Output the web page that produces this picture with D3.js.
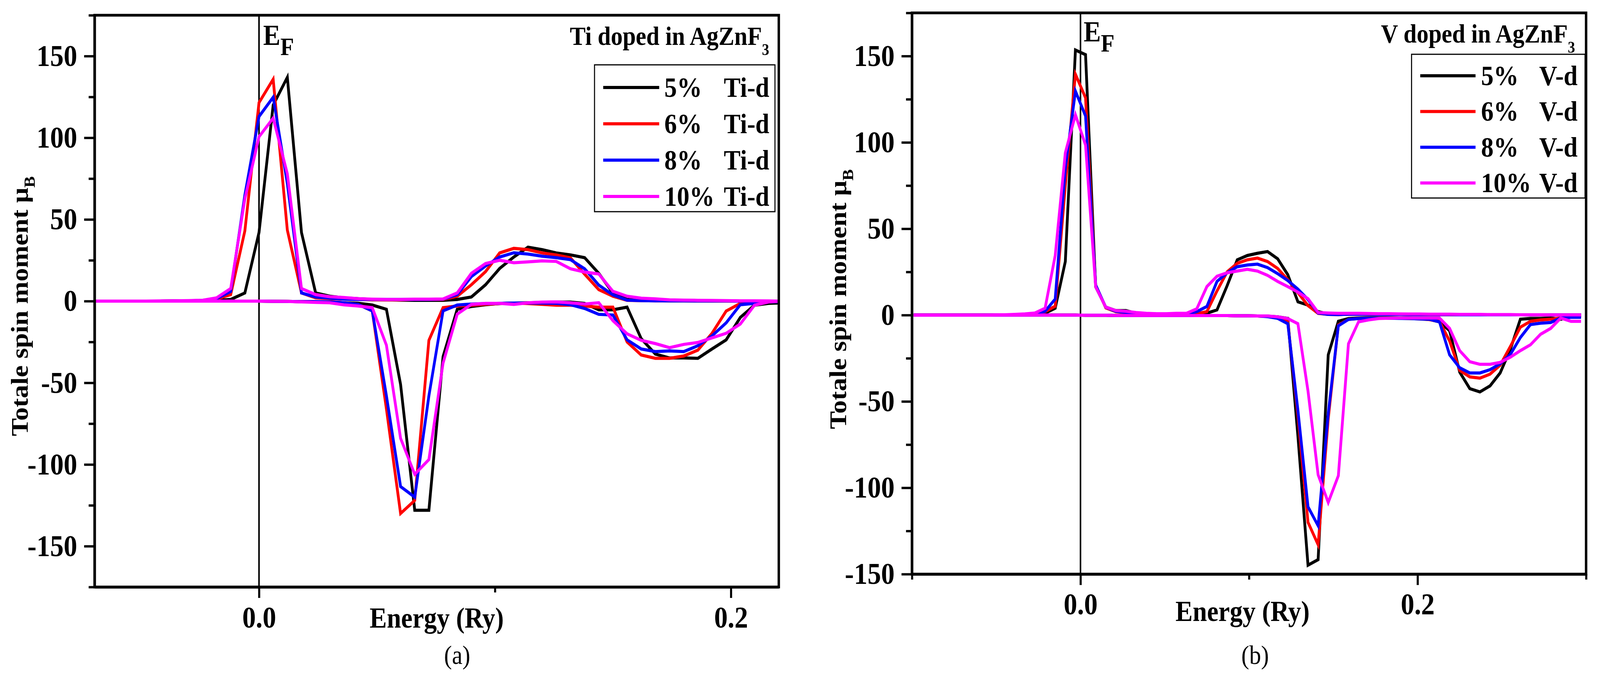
<!DOCTYPE html>
<html>
<head>
<meta charset="utf-8">
<script src="https://cdn.jsdelivr.net/npm/d3@7"></script>
<style>
  html, body { margin: 0; padding: 0; background: #ffffff; overflow: hidden; }
  #chart { position: fixed; left: 0; top: 0; width: 100vw; height: 100vh; display: block; }
  svg text { font-family: "Liberation Serif", "Times New Roman", serif; font-weight: bold; fill: #000; }
</style>
</head>
<body>
<svg id="chart"></svg>
<script>
// Set data
const dopings = ["5%", "6%", "8%", "10%"];
const lineColors = ["#000000", "#ff0000", "#0000ff", "#ff00ff"];

// (a) Ti doped, energy grid in Ry
const energyTi = [-0.072,-0.066,-0.060,-0.054,-0.048,-0.042,-0.036,-0.030,-0.024,-0.018,-0.012,-0.006,
  0,0.006,0.012,0.018,0.024,0.030,0.036,0.042,0.048,0.054,0.060,0.066,0.072,0.078,0.084,0.090,0.096,
  0.102,0.108,0.114,0.120,0.126,0.132,0.138,0.144,0.150,0.156,0.162,0.168,0.174,0.180,0.186,0.192,
  0.198,0.204,0.210,0.216,0.222];

// spin up
const tiUp5 = [0,0,0,0,0,0,0.1,0.2,0.3, 0.5,1,5,42,120,137,42,5,3,2,
  1.5,1,0.8,0.6,0.5,0.5,0.5,1,2.5,10, 20,27,33,31.5,29.5,28.3,26.6,17,5,1,
  0.5,0.3,0.2,0.2,0.2,0.1,0.1,0,0,0,0];
const tiUp6 = [0,0,0,0,0,0,0.1,0.2, 0.3,1.3,4,43,121.5,135.8,43.5,5,2,1.5,1.2,
  1,0.8,0.8,0.8,1,1,1,3,10,18, 29.5,32.3,31.5,29.5,28.2,26.5,16.5,7,3,0.5,
  0.3,0.2,0.2,0.2,0.1,0.1,0.1,0,0,0,0];
const tiUp8 = [0,0,0,0,0,0,0.1,0.2, 0.4,1.5,5.9,65,113,124.8,72,5,2.5,1.8,1.2,
  1,1,1,1,1,1,1.2,4,15,21.5, 27,29.6,28.8,27.5,26.6,25.4,19.8,9.8,3.8,0.6,
  0.3,0.2,0.2,0.2,0.1,0.1,0.1,0,0,0,0];
const tiUp10 = [0,0,0,0,0,0.1,0.2,0.3, 0.5,2,7.7,62.6,100.6,112,78,7.7,4,2.7,2.2,
  1.5,1.2,1,1,1.2,1.2,1.3,5,17,23, 25,23.5,24,24.6,24.3,19.8,17.8,16.6,6,3,
  1.8,1.4,0.8,0.6,0.5,0.4,0.3,0.2,0.2,0.1,0];

// spin down
const tiDn5 = [0,0,0,0,0,0,0,0,0,0,0,0,0,-0.1,-0.2,-0.3,
  -0.5,-0.7,-1,-1.3,-2.4,-5,-51,-128,-128,-34,
  -5,-3.3,-2.2,-1.5,-1.2,-1,-0.8,-0.6,-0.6,-1.4,-5.3,-5.3,
  -3.7,-23,-32.4,-34.8,-34.8,-35,-29.3,-23.7,-10,-2.5,-1.4,-1];
const tiDn6 = [0,0,0,0,0,0,0,0,0,0,0,0,0,-0.1,-0.2,-0.3,
  -0.3,-0.5,-1,-2,-6,-66,-130,-122,-24,-4,
  -3,-2.5,-2,-1.5,-1.2,-1.5,-2,-2.5,-2.5,-3,-3.7,-3.7,
  -25,-33,-35,-35,-33.6,-30,-19.7,-6.1,-1.4,-0.5,0,0];
const tiDn8 = [0,0,0,0,0,0,0,0,0,0,0,0,0,-0.1,-0.2,-0.3,
  -0.3,-0.5,-1,-2,-6,-58,-113.5,-120,-58,-6,
  -2.4,-1.8,-1.5,-1.4,-1.2,-1.2,-1.2,-1.4,-2.2,-4.5,-8.1,-8.5,
  -23.7,-29.3,-30.9,-30.5,-30.9,-27.3,-21.3,-13.3,-2.2,-1.4,-0.5,-0.3];
const tiDn10 = [0,0,0,0,0,0,0,0,0,0,0,0,0,-0.1,-0.2,-0.5,
  -0.8,-1,-2.3,-3,-4,-27,-84,-106,-97,-38,
  -8,-2,-1.4,-1.4,-2,-1,-0.6,-0.5,-1,-1.8,-1,-12,
  -20,-24,-26,-28.5,-26.5,-25.3,-22.5,-19.7,-14,-2.5,-0.5,0];

// (b) V doped, energy grid in Ry
const energyV = [-0.099,-0.093,-0.087,-0.081,-0.075,-0.069,-0.063,-0.057,-0.051,-0.045,-0.039,-0.033,
  -0.027,-0.021,-0.015,-0.009,-0.003,
  0.003,0.009,0.015,0.021,0.027,0.033,0.039,0.045,0.051,0.057,0.063,0.069,0.075,0.081,0.087,0.093,
  0.099,0.105,0.111,0.117,0.123,0.129,0.135,0.141,0.147,0.153,0.159,0.165,0.171,0.177,0.183,0.189,
  0.195,0.201,0.207,0.213,0.219,0.225,0.231,0.237,0.243,0.249,0.255,0.261,0.267,0.273,0.279,0.285,
  0.291,0.297];

// spin up
const vUp5 = [0,0,0,0,0,0,0,0,0,0,0.1,0.2,0.4,
  1.1,4,31,153.5,150.8,16.4,4.6,2.6,2.6,1,
  0.8,0.6,0.5,0.5,0.6,0.8,1.1,3,17,32,
  34.5,35.8,36.8,32.6,23.4,7.7,5.8,2,0.6,0.5,
  0.5,0.5,0.5,0.4,0.4,0.4,0.3,0.3,0.3,0.3,0.3,0.2,0.2,0.2,0.2,0.2,0.2,0.2,0.1,0.1,0.1,0.1,0.1,0.1];
const vUp6 = [0,0,0,0,0,0,0,0,0,0,0.1,0.3,0.6,
  2,5.2,75,139.5,125.8,17.4,4.2,2,1.5,1,
  0.8,0.6,0.5,0.5,0.6,0.8,2,14,25,30,
  32,33,31,27,20.5,13,5.5,1,0.4,0.3,
  0.5,0.5,0.5,0.4,0.4,0.4,0.3,0.3,0.3,0.3,0.3,0.2,0.2,0.2,0.2,0.2,0.2,0.2,0.1,0.1,0.1,0.1,0.1,0.1];
const vUp8 = [0,0,0,0,0,0,0,0,0,0,0.1,0.3,0.8,
  2.2,9.3,85,129.7,115.3,17.4,4.5,2.2,1.6,1.1,
  0.8,0.6,0.5,0.6,0.6,2,5,19.5,24.5,28,
  29,29.5,27.5,24,20,15,9,1.2,0.4,0.3,
  0.5,0.5,0.5,0.4,0.4,0.4,0.3,0.3,0.3,0.3,0.3,0.2,0.2,0.2,0.2,0.2,0.2,0.2,0.1,0.1,0.1,0.1,0.1,0.1];
const vUp10 = [0,0,0,0,0,0,0,0,0.1,0.2,0.4,0.7,1.2,
  4,34.5,94,116,98.4,16.4,4.6,2.6,2.2,1.5,
  1,0.8,0.8,1,1.1,3.6,16.5,22.5,24.5,25.5,
  26.5,25.5,23,19.5,16.5,13.3,9.5,1.5,1.2,1,
  1,1,0.9,0.8,0.8,0.7,0.6,0.6,0.5,0.5,0.5,0.4,0.4,0.4,0.3,0.3,0.3,0.2,0.2,0.2,0.1,0.1,0.1,0.1];

// spin down
const vDn5 = [0,0,0,0,0,0,0,0,0,0,0,0,0,0,0,0,0,
  -0.1,-0.1,-0.1,-0.2,-0.2,-0.2,-0.2,-0.2,-0.2,-0.2,-0.2,-0.3,-0.3,-0.3,-0.3,-0.4,-0.4,-0.5,
  -0.6,-1,-1.9,-70,-144.8,-141.6,-23,-3.6,-2,-1.7,
  -1.5,-1.5,-1.5,-1.6,-1.8,-2,-2.5,-3.9,-9,-33,
  -42.6,-44.5,-41,-33.5,-20,-2.4,-2,-2,-1.7,-2.4,-0.9,-0.5];
const vDn6 = [0,0,0,0,0,0,0,0,0,0,0,0,0,0,0,0,0,
  -0.1,-0.1,-0.1,-0.2,-0.2,-0.2,-0.2,-0.2,-0.2,-0.2,-0.2,-0.3,-0.3,-0.3,-0.3,-0.4,-0.4,-0.5,
  -0.8,-1.5,-4,-58,-120,-133,-60,-5.8,-2.5,-2,
  -1.8,-1.8,-1.8,-1.8,-2,-2.2,-2.6,-3.6,-15,-32,
  -35.8,-36.5,-34.2,-29,-18.3,-7,-3.6,-2.8,-2.4,-1.7,-0.9,-0.5];
const vDn8 = [0,0,0,0,0,0,0,0,0,0,0,0,0,0,0,0,0,
  -0.1,-0.1,-0.1,-0.2,-0.2,-0.2,-0.2,-0.2,-0.2,-0.2,-0.2,-0.3,-0.3,-0.3,-0.3,-0.4,-0.4,-0.5,
  -0.9,-1.9,-5,-55,-111,-122,-57,-6.2,-2.5,-2,
  -1.8,-1.8,-1.8,-1.9,-2,-2.2,-2.4,-3.9,-23,-30.5,
  -33.5,-33.5,-31.6,-28.2,-22.9,-13,-5.5,-4.7,-4.3,-1.7,-1.3,-1.3];
const vDn10 = [0,0,0,0,0,0,0,0,0,0,0,0,0,0,0,0,0,
  -0.1,-0.1,-0.1,-0.2,-0.2,-0.2,-0.2,-0.2,-0.2,-0.2,-0.2,-0.3,-0.3,-0.3,-0.3,-0.4,-0.4,-0.5,
  -0.5,-1,-2,-5,-44,-92.5,-108.5,-93,-16.6,-3.9,
  -2.8,-2,-1.8,-1.7,-1.7,-1.7,-1.7,-1.7,-7.7,-20.6,
  -27,-28.5,-28.5,-27.4,-24.4,-20.6,-17.2,-11.1,-7.7,-1.7,-3.6,-3.6];

// axis ticks
const yMajorTicks = [-150, -100, -50, 0, 50, 100, 150];
const yMinorTicks = [-175, -125, -75, -25, 25, 75, 125, 175];
const xMajorTicks = [0, 0.2];


// Set width and height
const width = 4602;
const height = 1736;
const fontFamily = '"Liberation Serif", "Times New Roman", serif';

// the svg fills the window, the drawing keeps its own 4602 x 1736 units
const canvas = d3.select("#chart")
    .attr("viewBox", `0 0 ${width} ${height}`)
    .attr("preserveAspectRatio", "none");

canvas.append("rect").attr("width", width).attr("height", height).attr("fill", "#ffffff");


// functions
const zipSeries = function(energy, values){
    return energy.map((e, i) => [e, values[i]]);
}

const drawCurves = function(g, panel, x, y){
    const line = d3.line().x(d => x(d[0])).y(d => y(d[1]));
    panel.up.forEach((vals, i) => {
        [vals, panel.down[i]].forEach(series => {
            g.append("path")
                .datum(zipSeries(panel.energy, series))
                .attr("d", line)
                .attr("fill", "none")
                .attr("stroke", lineColors[i])
                .attr("stroke-width", 8)
                .attr("stroke-linejoin", "miter")
                .attr("clip-path", `url(#${panel.id}-clip)`);
        });
    });
}

const drawAxes = function(g, panel, x, y){
    const styleAxis = function(sel){
        sel.attr("font-size", 78).attr("font-family", fontFamily);
        sel.select(".domain").attr("stroke-width", 7);
        sel.selectAll(".tick line").attr("stroke-width", 6);
    }

    const yMajor = d3.axisLeft(y).tickValues(yMajorTicks.filter(v => v >= panel.yDomain[0]))
        .tickSize(30).tickSizeOuter(0).tickPadding(20).tickFormat(d => String(d));
    g.append("g").attr("transform", `translate(${panel.left},0)`).call(yMajor).call(styleAxis);

    const yMinor = d3.axisLeft(y).tickValues(yMinorTicks.filter(v => v >= panel.yDomain[0] && v <= panel.yDomain[1]))
        .tickSize(17).tickSizeOuter(0).tickFormat("");
    g.append("g").attr("transform", `translate(${panel.left},0)`).call(yMinor).call(styleAxis)
        .select(".domain").remove();

    const xMajor = d3.axisBottom(x).tickValues(xMajorTicks).tickSize(28).tickSizeOuter(0)
        .tickFormat(d3.format(".1f"));
    const xg = g.append("g").attr("transform", `translate(0,${panel.bottom})`).call(xMajor).call(styleAxis);
    xg.selectAll(".tick text").attr("y", panel.tickLabelY).attr("dy", 0);

    const xMinor = d3.axisBottom(x).tickValues(panel.xMinor).tickSize(14).tickSizeOuter(0).tickFormat("");
    g.append("g").attr("transform", `translate(0,${panel.bottom})`).call(xMinor).call(styleAxis)
        .select(".domain").remove();

    // frame
    g.append("rect")
        .attr("x", panel.left).attr("y", panel.top)
        .attr("width", panel.right - panel.left).attr("height", panel.bottom - panel.top)
        .attr("fill", "none").attr("stroke", "#000").attr("stroke-width", 7);
}

const drawTexts = function(g, panel){
    // axis titles
    const yl = g.append("text")
        .attr("transform", `translate(${panel.yLabel[0]},${panel.yLabel[1]}) rotate(-90)`)
        .attr("text-anchor", "middle")
        .style("font-size", "69px");
    yl.append("tspan").text("Totale spin moment \u03bc");
    yl.append("tspan").attr("dy", 20).style("font-size", "44px").text("B");

    g.append("text")
        .attr("x", panel.xLabel[0]).attr("y", panel.xLabel[1])
        .attr("text-anchor", "middle")
        .style("font-size", "74px")
        .text("Energy (Ry)");

    g.append("text")
        .attr("x", panel.caption).attr("y", 1700)
        .attr("text-anchor", "middle")
        .style("font-size", "68px").style("font-weight", "normal")
        .text(panel.captionText);

    // Fermi level label
    const ef = g.append("text")
        .attr("x", panel.ef[0]).attr("y", panel.ef[1])
        .style("font-size", "74px");
    ef.append("tspan").text("E");
    ef.append("tspan").attr("dy", 26).style("font-size", "64px").text("F");

    // title
    const tt = g.append("text")
        .attr("x", panel.title[0]).attr("y", panel.title[1])
        .style("font-size", "68px");
    tt.append("tspan").text(panel.titleText);
    tt.append("tspan").attr("dy", 26).style("font-size", "42px").text("3");
}

const drawLegend = function(g, panel){
    const lg = panel.legend;
    g.append("rect")
        .attr("x", lg.box[0]).attr("y", lg.box[1])
        .attr("width", lg.box[2] - lg.box[0]).attr("height", lg.box[3] - lg.box[1])
        .attr("fill", "#fff").attr("stroke", "#000").attr("stroke-width", 3);

    dopings.forEach((name, i) => {
        const yy = lg.y0 + i * lg.step;
        g.append("line")
            .attr("x1", lg.line[0]).attr("x2", lg.line[1])
            .attr("y1", yy).attr("y2", yy)
            .attr("stroke", lineColors[i]).attr("stroke-width", 8);
        g.append("text")
            .attr("x", lg.text[0]).attr("y", yy + 24)
            .style("font-size", "72px")
            .text(name);
        g.append("text")
            .attr("x", lg.text[1]).attr("y", yy + 24)
            .style("font-size", "72px")
            .text(panel.orbital);
    });
}

const drawPanel = function(canvas, panel){
    const x = d3.scaleLinear().domain(panel.xDomain).range([panel.left, panel.right]);
    const y = d3.scaleLinear().domain(panel.yDomain).range([panel.bottom, panel.top]);
    const g = canvas.append("g");

    g.append("clipPath").attr("id", panel.id + "-clip")
        .append("rect")
        .attr("x", panel.left).attr("y", panel.top)
        .attr("width", panel.right - panel.left).attr("height", panel.bottom - panel.top);

    // Fermi level
    g.append("line")
        .attr("x1", x(0)).attr("x2", x(0))
        .attr("y1", panel.top).attr("y2", panel.bottom)
        .attr("stroke", "#000").attr("stroke-width", 4.5);

    drawCurves(g, panel, x, y);
    drawAxes(g, panel, x, y);
    drawTexts(g, panel);
    drawLegend(g, panel);
}


// main
const panels = [
    {
        id: "ti", energy: energyTi,
        up: [tiUp5, tiUp6, tiUp8, tiUp10], down: [tiDn5, tiDn6, tiDn8, tiDn10],
        left: 272, right: 2240, top: 39, bottom: 1503,
        xDomain: [-0.0697, 0.2203], yDomain: [-175, 175], xMinor: [0.1], tickLabelY: 104,
        yLabel: [80, 784], xLabel: [1256, 1607], caption: 1315, captionText: "(a)",
        ef: [757, 115], title: [1639, 115], titleText: "Ti doped in AgZnF",
        orbital: "Ti-d",
        legend: {box: [1710, 166, 2229, 542], line: [1735, 1896], y0: 224, step: 93, text: [1911, 2082]}
    },
    {
        id: "v", energy: energyV,
        up: [vUp5, vUp6, vUp8, vUp10], down: [vDn5, vDn6, vDn8, vDn10],
        left: 2623, right: 4562, top: 33, bottom: 1470,
        xDomain: [-0.1, 0.3], yDomain: [-150, 175], xMinor: [-0.1, 0.1, 0.3], tickLabelY: 103,
        yLabel: [2434, 766], xLabel: [3574, 1590], caption: 3610, captionText: "(b)",
        ef: [3117, 106], title: [3972, 109], titleText: "V doped in AgZnF",
        orbital: "V-d",
        legend: {box: [4060, 139, 4559, 507], line: [4085, 4244], y0: 194, step: 91.5, text: [4260, 4427]}
    }
];

panels.forEach(p => drawPanel(canvas, p));
</script>
</body>
</html>
